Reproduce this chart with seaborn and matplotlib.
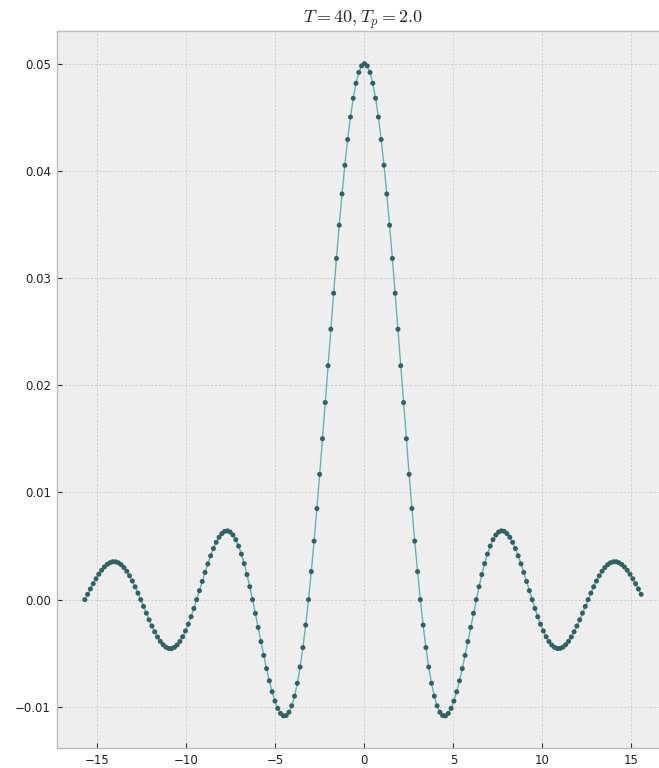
import matplotlib
matplotlib.use("Agg")
import matplotlib.pyplot as plt
import pandas as pd
import seaborn as sns

# Angular frequencies n*w0 of the harmonics n = -100 .. 99 (w0 = 2*pi/T)
omega = [
    -15.708, -15.551, -15.394, -15.237, -15.080, -14.923, -14.765, -14.608, -14.451, -14.294,
    -14.137, -13.980, -13.823, -13.666, -13.509, -13.352, -13.195, -13.038, -12.881, -12.723,
    -12.566, -12.409, -12.252, -12.095, -11.938, -11.781, -11.624, -11.467, -11.310, -11.153,
    -10.996, -10.838, -10.681, -10.524, -10.367, -10.210, -10.053, -9.896, -9.739, -9.582,
    -9.425, -9.268, -9.111, -8.954, -8.796, -8.639, -8.482, -8.325, -8.168, -8.011,
    -7.854, -7.697, -7.540, -7.383, -7.226, -7.069, -6.912, -6.754, -6.597, -6.440,
    -6.283, -6.126, -5.969, -5.812, -5.655, -5.498, -5.341, -5.184, -5.027, -4.869,
    -4.712, -4.555, -4.398, -4.241, -4.084, -3.927, -3.770, -3.613, -3.456, -3.299,
    -3.142, -2.985, -2.827, -2.670, -2.513, -2.356, -2.199, -2.042, -1.885, -1.728,
    -1.571, -1.414, -1.257, -1.100, -0.942, -0.785, -0.628, -0.471, -0.314, -0.157,
    0.000, 0.157, 0.314, 0.471, 0.628, 0.785, 0.942, 1.100, 1.257, 1.414,
    1.571, 1.728, 1.885, 2.042, 2.199, 2.356, 2.513, 2.670, 2.827, 2.985,
    3.142, 3.299, 3.456, 3.613, 3.770, 3.927, 4.084, 4.241, 4.398, 4.555,
    4.712, 4.869, 5.027, 5.184, 5.341, 5.498, 5.655, 5.812, 5.969, 6.126,
    6.283, 6.440, 6.597, 6.754, 6.912, 7.069, 7.226, 7.383, 7.540, 7.697,
    7.854, 8.011, 8.168, 8.325, 8.482, 8.639, 8.796, 8.954, 9.111, 9.268,
    9.425, 9.582, 9.739, 9.896, 10.053, 10.210, 10.367, 10.524, 10.681, 10.838,
    10.996, 11.153, 11.310, 11.467, 11.624, 11.781, 11.938, 12.095, 12.252, 12.409,
    12.566, 12.723, 12.881, 13.038, 13.195, 13.352, 13.509, 13.666, 13.823, 13.980,
    14.137, 14.294, 14.451, 14.608, 14.765, 14.923, 15.080, 15.237, 15.394, 15.551,
]

# Fourier coefficients c_n of the rectangular pulse train
coeff = [
    0.00000, 0.00050, 0.00100, 0.00149, 0.00195, 0.00237, 0.00274, 0.00305, 0.00329, 0.00345,
    0.00354, 0.00353, 0.00344, 0.00326, 0.00299, 0.00265, 0.00223, 0.00174, 0.00120, 0.00061,
    0.00000, -0.00063, -0.00126, -0.00188, -0.00246, -0.00300, -0.00348, -0.00389, -0.00420, -0.00443,
    -0.00455, -0.00456, -0.00445, -0.00423, -0.00390, -0.00346, -0.00292, -0.00229, -0.00159, -0.00082,
    0.00000, 0.00084, 0.00170, 0.00254, 0.00334, 0.00409, 0.00477, 0.00535, 0.00582, 0.00616,
    0.00637, 0.00642, 0.00631, 0.00603, 0.00560, 0.00500, 0.00425, 0.00336, 0.00234, 0.00121,
    0.00000, -0.00128, -0.00259, -0.00391, -0.00520, -0.00643, -0.00757, -0.00859, -0.00946, -0.01014,
    -0.01061, -0.01084, -0.01081, -0.01050, -0.00990, -0.00900, -0.00780, -0.00628, -0.00447, -0.00237,
    0.00000, 0.00262, 0.00546, 0.00850, 0.01169, 0.01501, 0.01839, 0.02182, 0.02523, 0.02858,
    0.03183, 0.03493, 0.03784, 0.04052, 0.04292, 0.04502, 0.04677, 0.04817, 0.04918, 0.04979,
    0.05000, 0.04979, 0.04918, 0.04817, 0.04677, 0.04502, 0.04292, 0.04052, 0.03784, 0.03493,
    0.03183, 0.02858, 0.02523, 0.02182, 0.01839, 0.01501, 0.01169, 0.00850, 0.00546, 0.00262,
    0.00000, -0.00237, -0.00447, -0.00628, -0.00780, -0.00900, -0.00990, -0.01050, -0.01081, -0.01084,
    -0.01061, -0.01014, -0.00946, -0.00859, -0.00757, -0.00643, -0.00520, -0.00391, -0.00259, -0.00128,
    0.00000, 0.00121, 0.00234, 0.00336, 0.00425, 0.00500, 0.00560, 0.00603, 0.00631, 0.00642,
    0.00637, 0.00616, 0.00582, 0.00535, 0.00477, 0.00409, 0.00334, 0.00254, 0.00170, 0.00084,
    0.00000, -0.00082, -0.00159, -0.00229, -0.00292, -0.00346, -0.00390, -0.00423, -0.00445, -0.00456,
    -0.00455, -0.00443, -0.00420, -0.00389, -0.00348, -0.00300, -0.00246, -0.00188, -0.00126, -0.00063,
    0.00000, 0.00061, 0.00120, 0.00174, 0.00223, 0.00265, 0.00299, 0.00326, 0.00344, 0.00353,
    0.00354, 0.00345, 0.00329, 0.00305, 0.00274, 0.00237, 0.00195, 0.00149, 0.00100, 0.00050,
]

title = r"$T = 40, T_p = 2.0$"

df = pd.DataFrame({"omega": omega, "c": coeff})

sns.set_theme(style="darkgrid", rc={
    "axes.facecolor": "#eeeeee",
    "axes.edgecolor": "#bcbcbc",
    "axes.linewidth": 1.0,
    "grid.color": "#cbcbcb",
    "grid.linestyle": (0, (2.5, 2.0)),
    "grid.linewidth": 0.6,
    "xtick.bottom": True,
    "ytick.left": True,
    "xtick.direction": "in",
    "ytick.direction": "in",
    "xtick.major.size": 3.5,
    "ytick.major.size": 3.5,
    "xtick.major.width": 0.8,
    "ytick.major.width": 0.8,
    "xtick.major.pad": 3.8,
    "ytick.major.pad": 4.5,
    "xtick.color": "#333333",
    "ytick.color": "#333333",
    "xtick.labelcolor": "#222222",
    "ytick.labelcolor": "#222222",
    "xtick.labelsize": 8.5,
    "ytick.labelsize": 8.5,
    "mathtext.fontset": "cm",
})
plt.rcParams["font.family"] = ["DejaVu Sans"]

fig = plt.figure(figsize=(6.59, 7.68), dpi=100)
ax = fig.add_axes([0.0865, 0.0254, 0.9287, 0.9342])

sns.lineplot(data=df, x="omega", y="c", ax=ax, color="#5fb5b5", linewidth=1.0,
             sort=False, estimator=None, zorder=2)
sns.scatterplot(data=df, x="omega", y="c", ax=ax, color="#2f6262", s=13,
                edgecolor="none", zorder=3)

ax.margins(x=0.05, y=0.05)
ax.set_xlabel("")
ax.set_ylabel("")
ax.set_title(title, fontsize=13, pad=6)
ax.spines["right"].set_visible(False)
for side in ("left", "bottom", "top"):
    ax.spines[side].set_color("#bcbcbc")

fig.savefig("out.png", dpi=100)
